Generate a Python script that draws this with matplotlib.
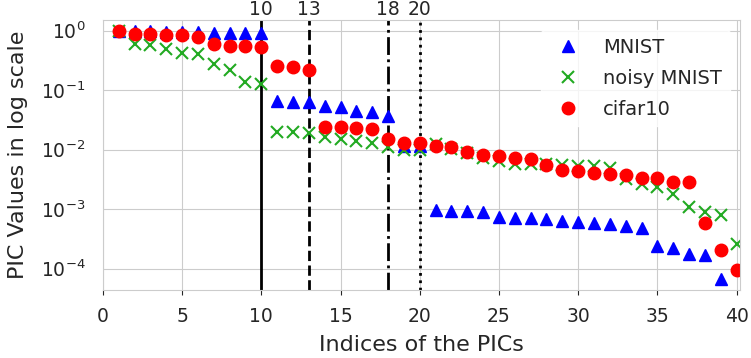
import matplotlib
matplotlib.use("Agg")
import matplotlib.pyplot as plt
import seaborn as sns
import numpy as np

# PIC values for each data set, indices start at 1
mnist = [1.0, 0.98, 0.97, 0.96, 0.95, 0.95, 0.92, 0.91, 0.90, 0.90,
         0.066, 0.062, 0.062, 0.054, 0.053, 0.045, 0.043, 0.037, 0.0115, 0.0115,
         0.00097, 0.00095, 0.00092, 0.00090, 0.00075, 0.00071, 0.00071, 0.00068, 0.00064, 0.00061,
         0.00059, 0.00056, 0.00053, 0.00048, 0.000243, 0.000225, 0.000178, 0.000168, 0.0000685]
noisy_mnist = [1.0, 0.59, 0.57, 0.49, 0.415, 0.40, 0.27, 0.218, 0.138, 0.125,
               0.020, 0.020, 0.0193, 0.0161, 0.0149, 0.0139, 0.0128, 0.0112, 0.0098, 0.0098,
               0.0124, 0.0101, 0.0087, 0.0072, 0.0065, 0.0058, 0.0057, 0.0057, 0.0056, 0.0054,
               0.0053, 0.0050, 0.0032, 0.0026, 0.0024, 0.00177, 0.00110, 0.00090, 0.00080, 0.00026]
cifar10 = [0.97, 0.88, 0.88, 0.83, 0.83, 0.79, 0.59, 0.54, 0.54, 0.52,
           0.254, 0.241, 0.218, 0.0243, 0.0243, 0.0234, 0.0222, 0.0149, 0.0131, 0.0131,
           0.0115, 0.0112, 0.0093, 0.0081, 0.0078, 0.0072, 0.0069, 0.0055, 0.0046, 0.0044,
           0.0041, 0.0039, 0.0038, 0.0034, 0.0033, 0.0029, 0.0029, 0.00059, 0.000208, 0.0000945]

cut_points = [10, 13, 18, 20]
cut_styles = ["-", "--", "-.", ":"]

sns.set_style("whitegrid")
plt.rcParams["font.family"] = ["DejaVu Sans"]
plt.rcParams["font.size"] = 13

fig = plt.figure(figsize=(7.51, 3.58), dpi=100)
ax = fig.add_axes([0.137, 0.19, 0.848, 0.754])

for c, ls in zip(cut_points, cut_styles):
    ax.axvline(c, color="black", linestyle=ls, linewidth=2, zorder=1.5)

ax.plot(np.arange(1, len(mnist) + 1), mnist, "^", color="blue", markersize=9,
        linestyle="none", label="MNIST")
ax.plot(np.arange(1, len(noisy_mnist) + 1), noisy_mnist, "x", color="#22aa22",
        markersize=8, markeredgewidth=1.5, linestyle="none", label="noisy MNIST")
ax.plot(np.arange(1, len(cifar10) + 1), cifar10, "o", color="red", markersize=9,
        linestyle="none", label="cifar10")

ax.set_yscale("log")
ax.set_ylim(4.4e-5, 1.5)
ax.set_xlim(0, 40.2)
ax.set_xticks(np.arange(0, 41, 5))
ax.set_yticks([1, 1e-1, 1e-2, 1e-3, 1e-4])
ax.minorticks_off()
ax.tick_params(axis="both", labelsize=13.5, pad=9)
ax.set_xlabel("Indices of the PICs", fontsize=16, labelpad=6)
ax.set_ylabel("PIC Values in log scale", fontsize=16, labelpad=9)
ax.legend(loc="upper right", fontsize=14, frameon=True, facecolor="white",
          edgecolor="white", framealpha=0.8, labelspacing=0.62)

top = ax.twiny()
top.set_xlim(ax.get_xlim())
top.set_xticks(cut_points)
top.set_xticklabels([str(c) for c in cut_points])
top.tick_params(labelsize=13.5, length=0, pad=1)
top.grid(False)
for s in top.spines.values():
    s.set_visible(False)

fig.savefig("out.png", dpi=100)
